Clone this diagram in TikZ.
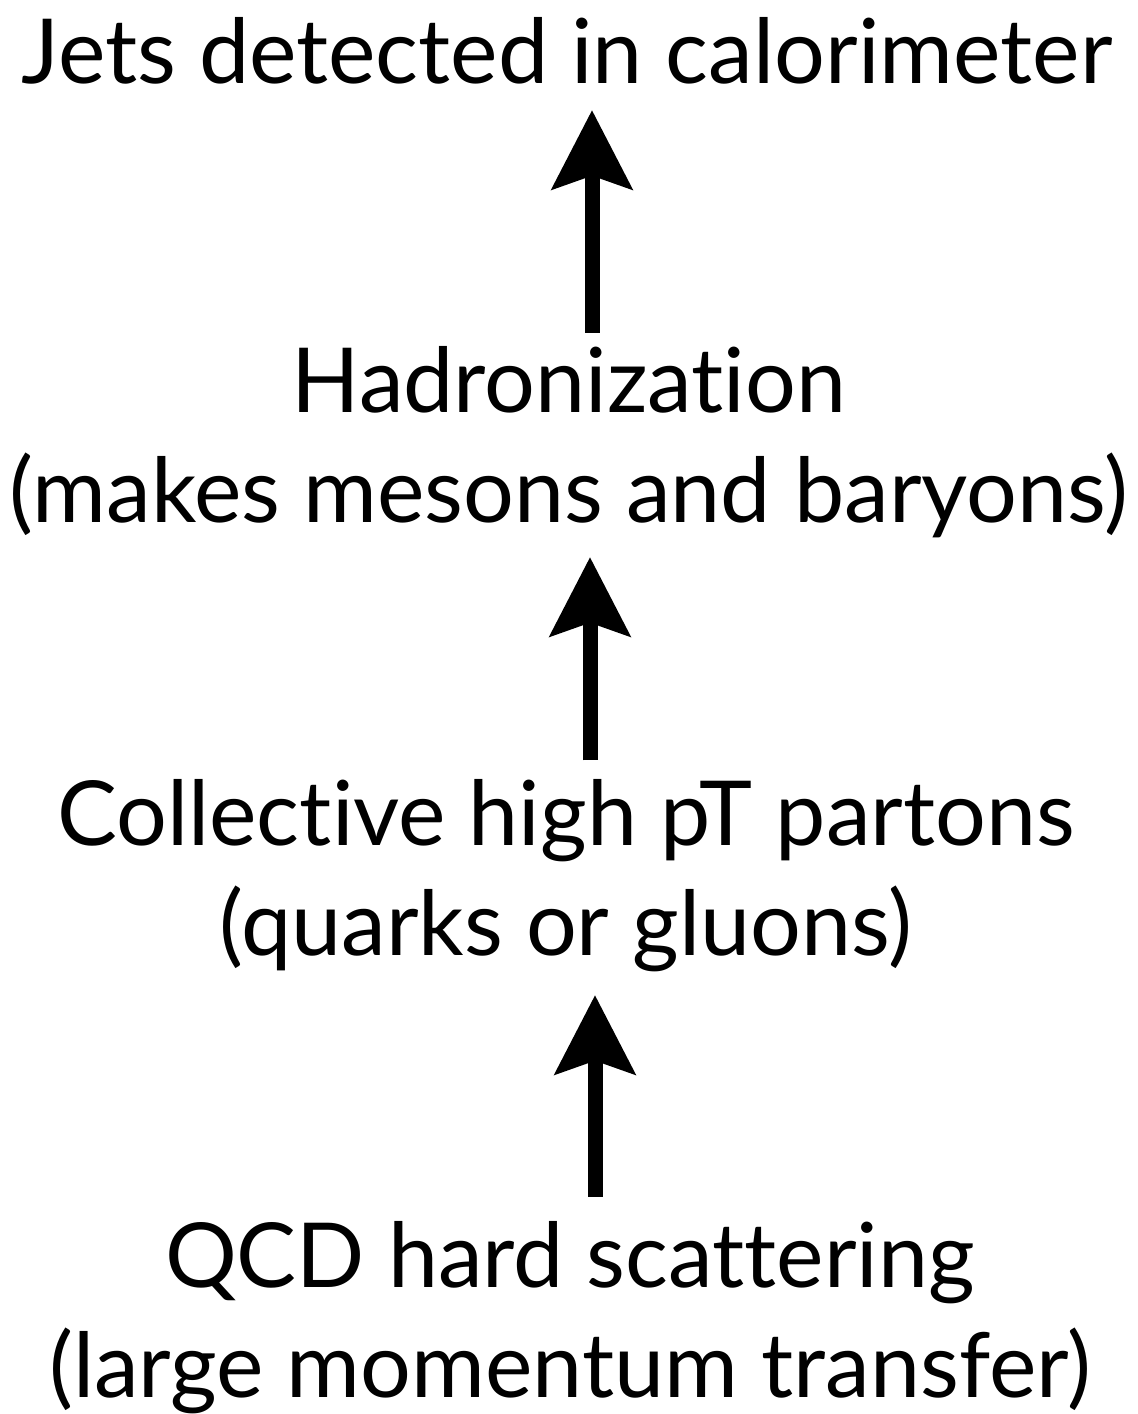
\documentclass[tikz,border=0pt]{standalone}
\usepackage{fontspec}
\setmainfont{Lato}[Ligatures=NoCommon]
\usetikzlibrary{arrows.meta}

\begin{document}
\begin{tikzpicture}[x=0.75pt,y=0.75pt,yscale=-1,xscale=1,
  lbl/.style={anchor=base,inner sep=0pt,outer sep=0pt,align=center,font=\fontsize{67.3}{82.5}\selectfont},
  uparr/.style={line width=11.25pt,-{Stealth[length=60pt,width=62pt,inset=11pt,line width=0pt]}}]
\useasboundingbox (0,0) rectangle (1138,1414);

% Text Node
\node[lbl] (jets) at (567,83) {Jets detected in calorimeter};
% Text Node
\node[lbl] (hadr) at (569,522) {Hadronization\\(makes mesons and baryons)};
% Text Node
\node[lbl] (coll) at (566,955) {Collective high pT partons\\(quarks or gluons)};
% Text Node
\node[lbl] (qcd) at (570,1397) {QCD hard scattering\\(large momentum transfer)};

\coordinate (ax1) at (592,0);
\coordinate (ax2) at (590,0);
\coordinate (ax3) at (595,0);

%Straight Lines
\draw[uparr,shorten <=10pt,shorten >=20pt] (hadr.north -| ax1) -- (jets.south -| ax1);
%Straight Lines
\draw[uparr,shorten <=14pt,shorten >=15pt] (coll.north -| ax2) -- (hadr.south -| ax2);
%Straight Lines
\draw[uparr,shorten <=18pt,shorten >=18pt] (qcd.north -| ax3) -- (coll.south -| ax3);
\end{tikzpicture}
\end{document}
